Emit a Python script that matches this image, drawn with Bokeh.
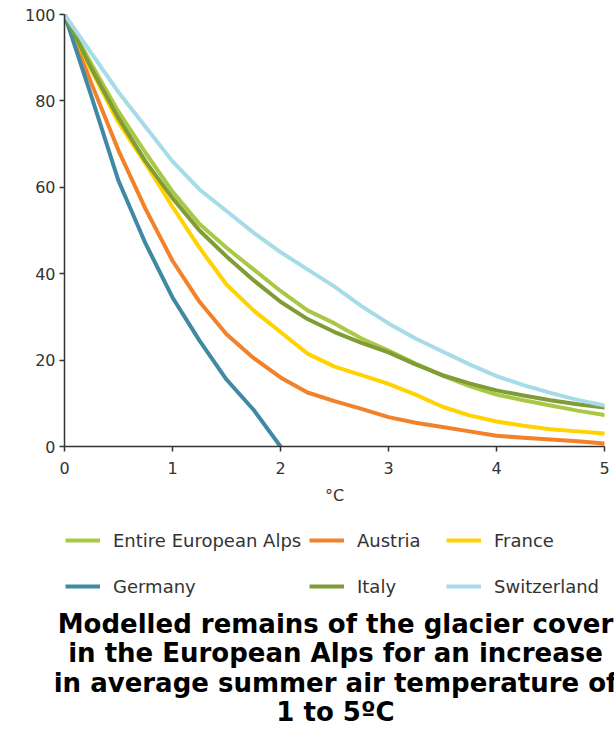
from bokeh.plotting import figure
from bokeh.layouts import column
from bokeh.models import Range1d, Legend, LegendItem, Label, FixedTicker
from bokeh.embed import file_html
from bokeh.resources import INLINE

# Temperature increase (°C) and remaining glacier cover (% of today)
temperature_rise = [0, 0.25, 0.5, 0.75, 1, 1.25, 1.5, 1.75, 2, 2.25, 2.5,
                    2.75, 3, 3.25, 3.5, 3.75, 4, 4.25, 4.5, 4.75, 5]
entire_alps = [100, 88.5, 77.5, 68, 59, 51.5, 46, 41, 36, 31.5, 28.5,
               25, 22.2, 19.2, 16.4, 14, 12, 10.7, 9.5, 8.3, 7.3]
austria = [100, 84, 68.5, 55, 43, 33.5, 26, 20.5, 16, 12.5, 10.5,
           8.7, 6.8, 5.5, 4.5, 3.5, 2.5, 2, 1.6, 1.2, 0.7]
france = [100, 87, 75, 65.5, 55.5, 46, 37.5, 31.5, 26.5, 21.5, 18.5,
          16.5, 14.5, 12, 9.2, 7.2, 5.8, 4.8, 4, 3.5, 3]
germany_rise = [0, 0.25, 0.5, 0.75, 1, 1.25, 1.5, 1.75, 2]
germany = [100, 81, 61.5, 47, 34.5, 24.5, 15.5, 8.5, 0]
italy = [100, 87.5, 76, 66, 57.5, 50, 44, 38.5, 33.5, 29.5, 26.5,
         24, 21.8, 19, 16.5, 14.6, 13, 11.8, 10.7, 9.8, 9]
switzerland = [100, 91, 82, 74, 66, 59.5, 54.5, 49.5, 45, 41, 37,
               32.5, 28.5, 25, 22, 19, 16.3, 14.2, 12.4, 10.8, 9.5]

x_ticks = [0, 1, 2, 3, 4, 5]
y_ticks = [0, 20, 40, 60, 80, 100]

series = [
    ("Entire European Alps", temperature_rise, entire_alps, "#A9C946"),
    ("Austria", temperature_rise, austria, "#F2812A"),
    ("France", temperature_rise, france, "#FFD200"),
    ("Germany", germany_rise, germany, "#3F89A5"),
    ("Italy", temperature_rise, italy, "#7F9C37"),
    ("Switzerland", temperature_rise, switzerland, "#A6DCE7"),
]

title_lines = [
    "Modelled remains of the glacier cover",
    "in the European Alps for an increase",
    "in average summer air temperature of",
    "1 to 5ºC",
]

FONT = "DejaVu Sans"
LINE_W = 4

# ---- chart ----
p = figure(width=614, height=510, output_backend="svg", toolbar_location=None,
           x_range=Range1d(0, 5), y_range=Range1d(0, 100),
           min_border_left=64, min_border_right=10,
           min_border_top=14, min_border_bottom=64)
p.frame_align = False
p.outline_line_color = None
p.grid.visible = False

for name, xs, ys, color in series:
    p.line(xs, ys, line_color=color, line_width=LINE_W,
           line_join="round", line_cap="round")

for ax in (p.xaxis[0], p.yaxis[0]):
    ax.major_tick_out = 5
    ax.major_tick_in = 0
    ax.minor_tick_line_color = None
    ax.axis_line_color = "#333333"
    ax.axis_line_width = 1.5
    ax.major_tick_line_color = "#333333"
    ax.major_tick_line_width = 1.5
    ax.major_label_text_font = FONT
    ax.major_label_text_font_size = "16px"
    ax.major_label_text_color = "#333333"

p.xaxis.ticker = FixedTicker(ticks=x_ticks)
p.yaxis.ticker = FixedTicker(ticks=y_ticks)
p.xaxis.major_label_standoff = 10
p.yaxis.major_label_standoff = 4
p.xaxis.axis_label = "°C"
p.xaxis.axis_label_text_font = FONT
p.xaxis.axis_label_text_font_size = "16px"
p.xaxis.axis_label_text_font_style = "normal"
p.xaxis.axis_label_text_color = "#333333"
p.xaxis.axis_label_standoff = 9

# ---- legend and title panel (no axes; the series sit outside its ranges) ----
q = figure(width=614, height=222, output_backend="svg", toolbar_location=None,
           x_range=Range1d(-20, -10), y_range=Range1d(-20, -10),
           x_axis_location=None, y_axis_location=None,
           min_border=0, min_border_left=0, min_border_right=0,
           min_border_top=0, min_border_bottom=0)
q.frame_align = False
q.outline_line_color = None
q.grid.visible = False

keys = {}
for name, xs, ys, color in series:
    keys[name] = q.line(xs, ys, line_color=color, line_width=LINE_W)

legend_columns = [
    (["Entire European Alps", "Germany"], 65),
    (["Austria", "Italy"], 309),
    (["France", "Switzerland"], 446),
]
for names, x_off in legend_columns:
    q.add_layout(Legend(
        items=[LegendItem(label=n, renderers=[keys[n]]) for n in names],
        location=(x_off, 135), orientation="vertical",
        glyph_width=35, glyph_height=22, label_height=22,
        label_standoff=13, spacing=24, padding=0, margin=0,
        border_line_color=None, background_fill_alpha=0,
        label_text_font=FONT, label_text_font_size="18px",
        label_text_color="#333333",
    ))

for i, line in enumerate(title_lines):
    q.add_layout(Label(
        x=335, y=109 - 29.5 * i, x_units="screen", y_units="screen",
        text=line, text_align="center", text_baseline="middle",
        text_font=FONT, text_font_style="bold", text_font_size="26px",
        text_color="#000000",
    ))

layout = column(p, q, spacing=0)
open("out.html", "w").write(file_html(layout, INLINE))
